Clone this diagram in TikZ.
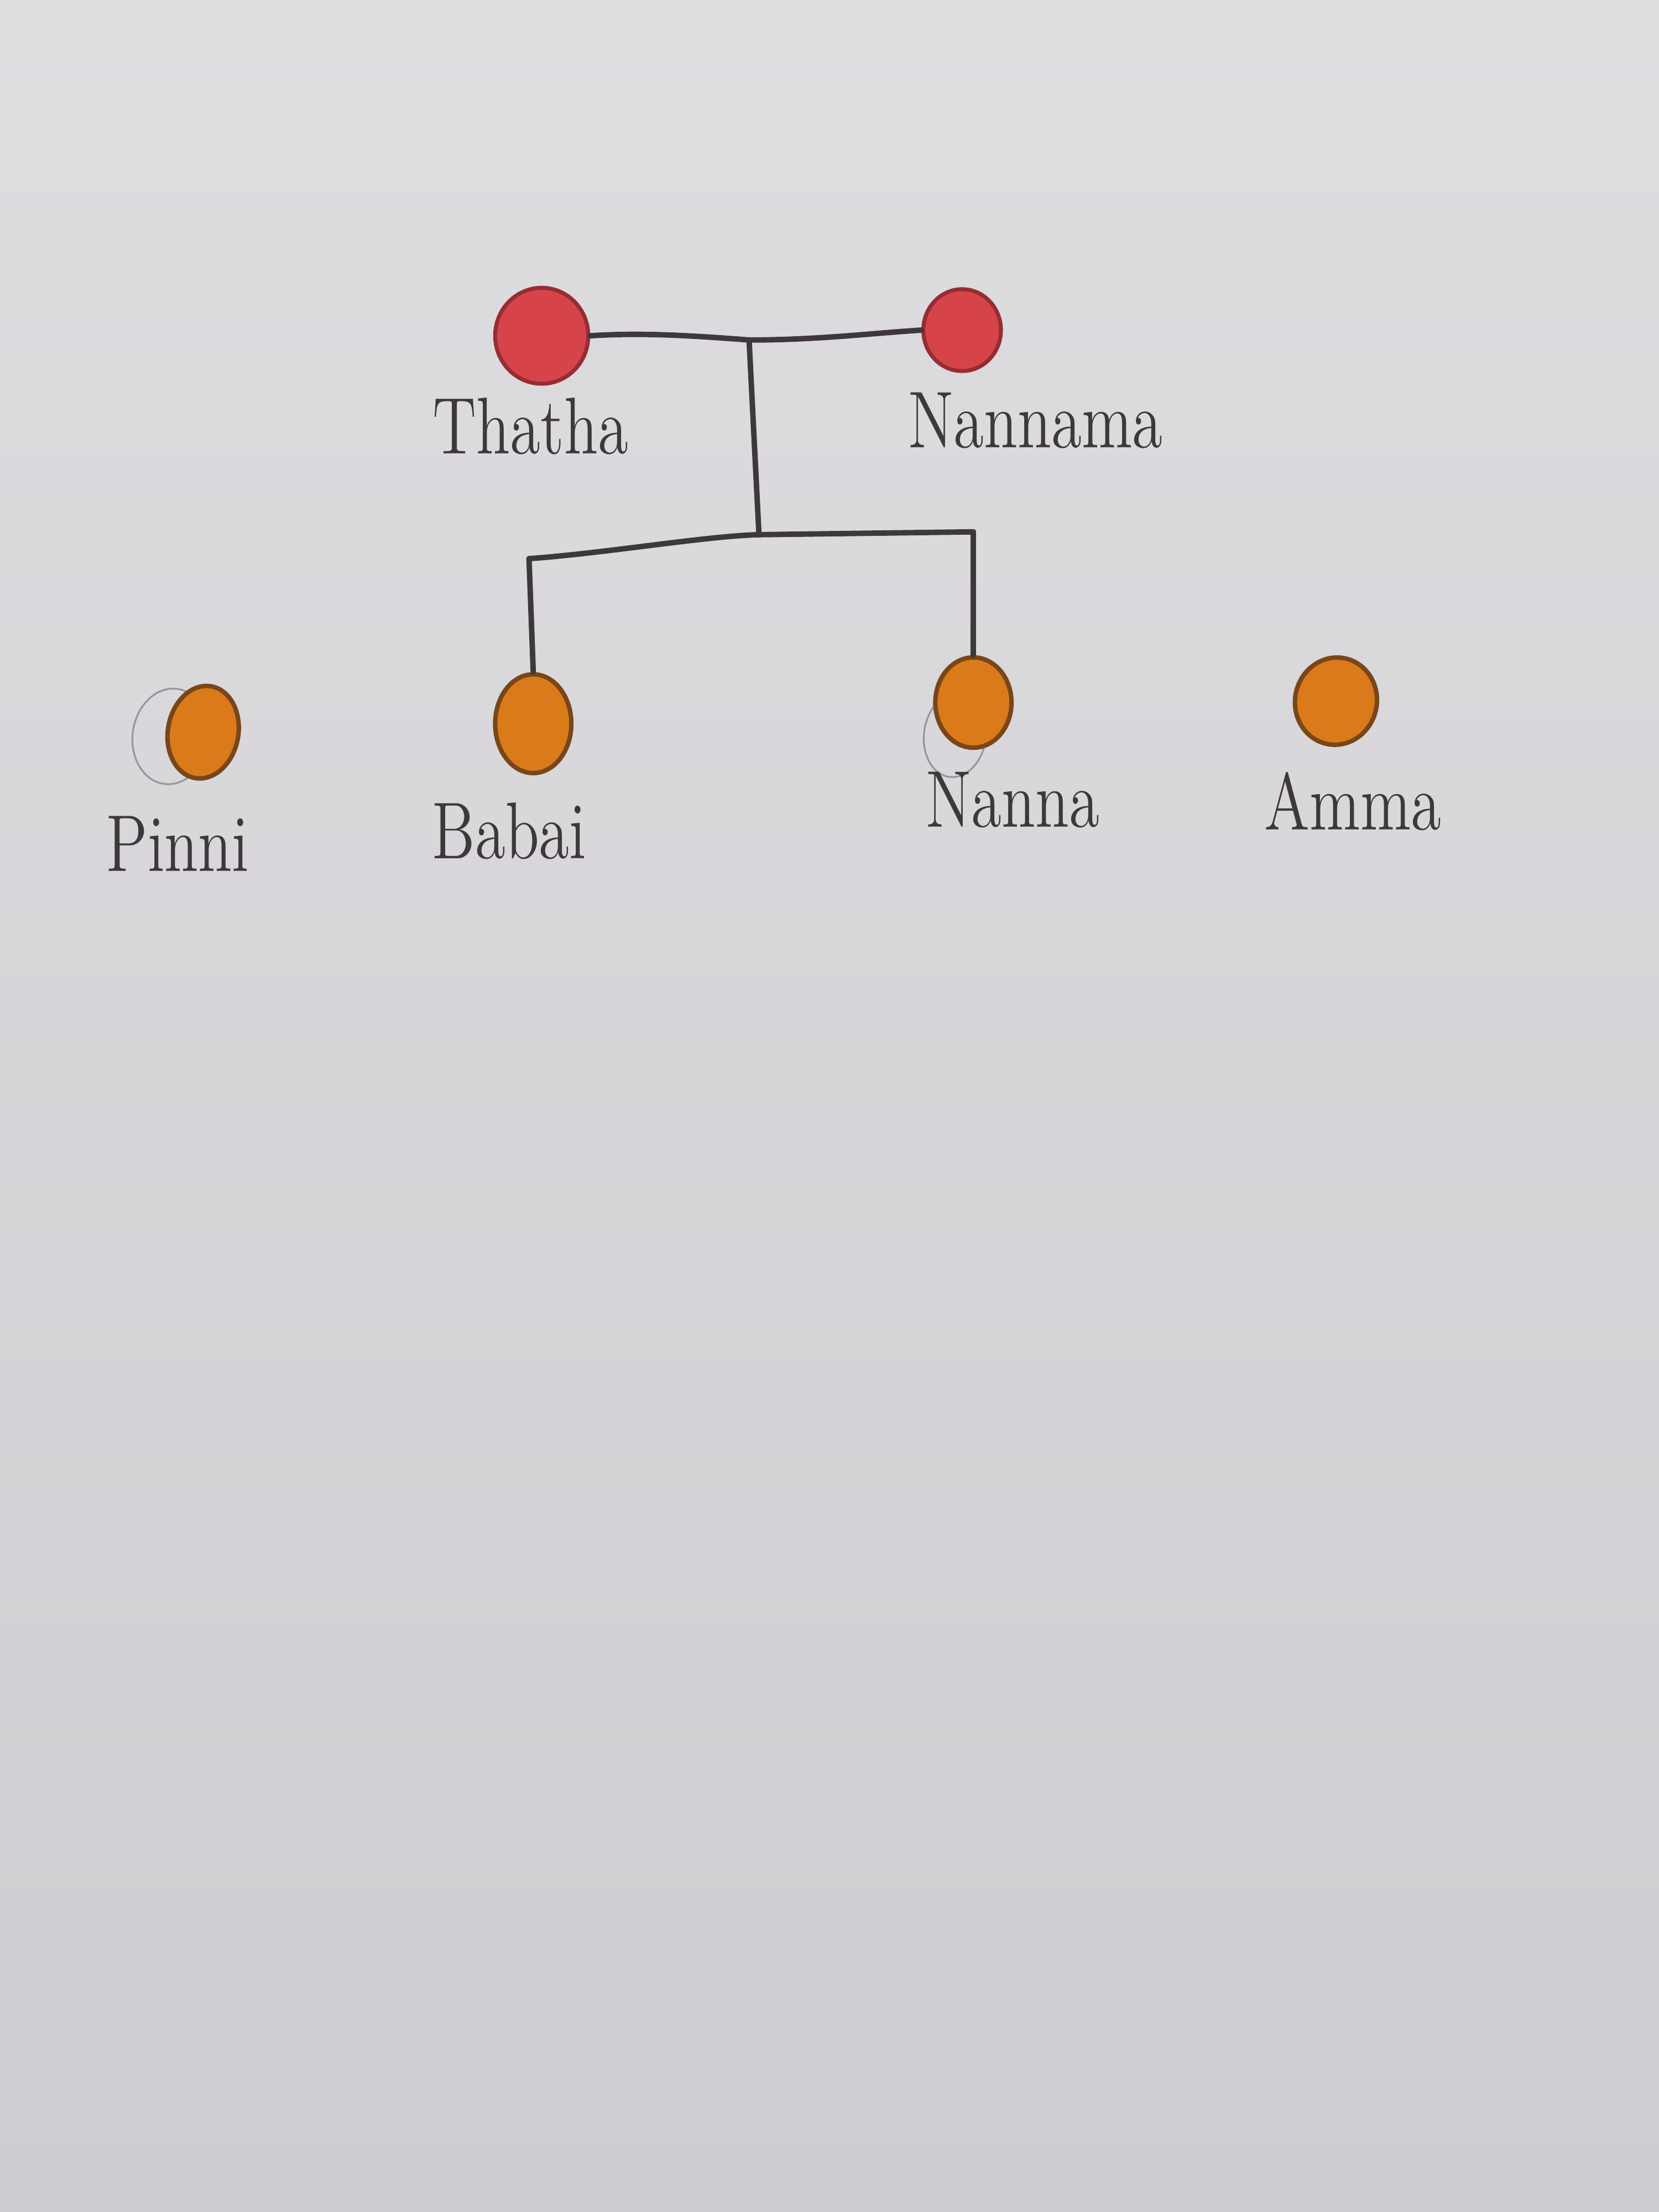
\documentclass[tikz,border=0pt]{standalone}
\usetikzlibrary{shapes.geometric}
\definecolor{paperTop}{RGB}{222,221,224}
\definecolor{paperBot}{RGB}{206,204,208}
\definecolor{ink}{RGB}{62,56,60}
\definecolor{redFill}{RGB}{214,68,74}
\definecolor{redLine}{RGB}{150,45,50}
\definecolor{orFill}{RGB}{218,122,26}
\definecolor{orLine}{RGB}{120,70,25}
\definecolor{pencil}{RGB}{150,150,155}
\tikzset{
  x=0.1mm, y=-0.1mm,
  eldernode/.style={ellipse, draw=redLine, fill=redFill, line width=0.8pt, inner sep=0pt},
  kidnode/.style={ellipse, draw=orLine, fill=orFill, line width=0.9pt, inner sep=0pt},
  sketchnode/.style={ellipse, draw=pencil, line width=0.35pt, inner sep=0pt},
  conn/.style={draw=ink, line width=1.1pt, line cap=round, line join=round},
  lbl/.style={text=ink, inner sep=0pt, font=\fontsize{12.5}{14}\selectfont}
}
\begin{document}
\begin{tikzpicture}
\useasboundingbox (0,0) rectangle (1176,1568);
\shade[top color=paperTop, bottom color=paperBot] (0,0) rectangle (1176,1568);

% faint pencil sketches
\node[sketchnode, minimum width=5.4mm, minimum height=6.8mm, rotate=-8] (pinnisk) at (121,522) {};
\node[sketchnode, minimum width=4.4mm, minimum height=6.0mm, rotate=-8] (nannask) at (677,521) {};

% people
\node[eldernode, minimum width=6.6mm, minimum height=6.8mm] (thatha) at (384,238) {};
\node[eldernode, minimum width=5.5mm, minimum height=5.8mm] (nannama) at (682,234) {};
\node[kidnode, minimum width=5.0mm, minimum height=6.6mm, rotate=-10] (pinni) at (144,519) {};
\node[kidnode, minimum width=5.4mm, minimum height=7.0mm] (babai) at (378,513) {};
\node[kidnode, minimum width=5.4mm, minimum height=6.4mm] (nanna) at (690,498) {};
\node[kidnode, minimum width=5.8mm, minimum height=6.2mm, rotate=-12] (amma) at (947,497) {};

% labels
\node[lbl] (lthatha) at (376,302) {\scalebox{1}[1.3]{Thatha}};
\node[lbl] (lnannama) at (734,298) {\scalebox{1}[1.3]{Nannama}};
\node[lbl] (lpinni) at (126,598) {\scalebox{1}[1.3]{Pinni}};
\node[lbl] (lbabai) at (361,589) {\scalebox{1}[1.3]{Babai}};
\node[lbl] (lnanna) at (718,567) {\scalebox{1}[1.3]{Nanna}};
\node[lbl] (lamma) at (959,568) {\scalebox{1}[1.3]{Amma}};

% connector junctions
\coordinate (m) at (531,241);
\coordinate (s) at (538,379);
\coordinate (sl) at (375,396);
\coordinate (sr) at (690,377);

% marriage line
\draw[conn] (thatha.east) .. controls (450,236) and (480,237) .. (m)
  .. controls (580,241) and (620,236) .. (nannama.west);
% descent
\draw[conn] (m) -- (s);
\draw[conn] (sl) .. controls (430,392) and (500,380) .. (s) -- (sr);
\draw[conn] (sl) -- (babai.north);
\draw[conn] (sr) -- (nanna.north);
\end{tikzpicture}
\end{document}
